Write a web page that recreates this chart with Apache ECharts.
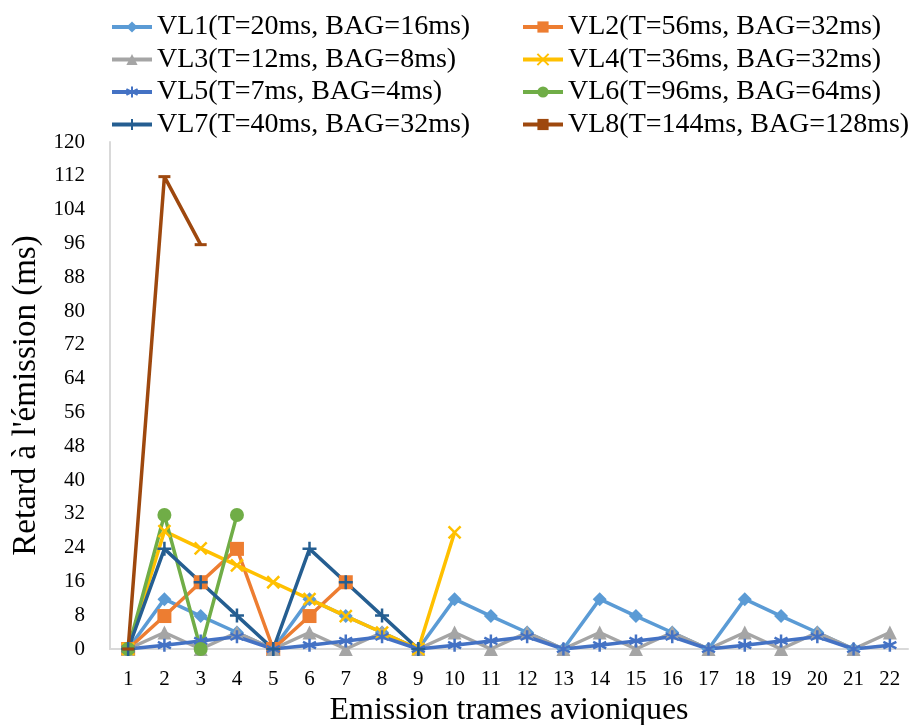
<!DOCTYPE html>
<html>
<head>
<meta charset="utf-8">
<script src="https://cdn.jsdelivr.net/npm/echarts@6/dist/echarts.min.js"></script>
<style>
  html, body { margin: 0; padding: 0; background: #fff; }
  #chart { width: 921px; height: 725px; }
</style>
</head>
<body>
<div id="chart"></div>
<script>
var categories = ['1','2','3','4','5','6','7','8','9','10','11','12','13','14','15','16','17','18','19','20','21','22'];

var vl1 = [0, 11.8, 7.8, 3.9, 0, 11.8, 7.8, 3.9, 0, 11.8, 7.8, 3.9, 0, 11.8, 7.8, 3.9, 0, 11.8, 7.8, 3.9, 0];
var vl2 = [0, 7.8, 15.8, 23.7, 0, 7.8, 15.8];
var vl3 = [0, 3.9, 0, 3.9, 0, 3.9, 0, 3.9, 0, 3.9, 0, 3.9, 0, 3.9, 0, 3.9, 0, 3.9, 0, 3.9, 0, 3.9];
var vl4 = [0, 27.9, 23.8, 19.8, 15.8, 11.8, 7.8, 3.9, 0, 27.6];
var vl5 = [0, 0.9, 1.9, 2.9, 0, 0.9, 1.9, 2.9, 0, 0.9, 1.9, 2.9, 0, 0.9, 1.9, 2.9, 0, 0.9, 1.9, 2.9, 0, 0.9];
var vl6 = [0, 31.7, 0, 31.7];
var vl7 = [0, 23.7, 15.8, 7.9, 0, 23.7, 15.8, 7.9, 0];
var vl8 = [0, 111.8, 95.7];

var names = [
    'VL1(T=20ms, BAG=16ms)',
    'VL2(T=56ms, BAG=32ms)',
    'VL3(T=12ms, BAG=8ms)',
    'VL4(T=36ms, BAG=32ms)',
    'VL5(T=7ms, BAG=4ms)',
    'VL6(T=96ms, BAG=64ms)',
    'VL7(T=40ms, BAG=32ms)',
    'VL8(T=144ms, BAG=128ms)'
];

var font = 'Liberation Serif';

// stroked markers (Excel style x, +, * and the short dash)
var crossX = 'path://M0,0 L10,10 M10,0 L0,10';
var plus = 'path://M5,0 L5,10 M0,5 L10,5';
var asterisk = 'path://M5,0 L5,10 M0.7,2.5 L9.3,7.5 M0.7,7.5 L9.3,2.5';
var dash = 'path://M0,0 L10,0 L10,2 L0,2 Z';

function mkSeries(name, data, color, symbol, size, stroke) {
    return {
        name: name,
        type: 'line',
        data: data,
        symbol: symbol,
        symbolSize: size,
        showSymbol: true,
        lineStyle: { color: color, width: 3.5 },
        itemStyle: stroke
            ? { color: color, borderColor: color, borderWidth: 2.5 }
            : { color: color, borderWidth: 0 },
        emphasis: { disabled: true },
        animation: false
    };
}

var chart = echarts.init(document.getElementById('chart'));

var legendText = { fontFamily: font, fontSize: 28, color: '#000', lineHeight: 30 };

function mkLegend(items, left) {
    return {
        data: items,
        orient: 'vertical',
        left: left,
        top: 7,
        itemGap: 2.5,
        itemWidth: 40,
        itemHeight: 14,
        lineStyle: { width: 4 },
        textStyle: legendText
    };
}

var option = {
    backgroundColor: '#fff',
    textStyle: { fontFamily: font },
    legend: [
        mkLegend([names[0], names[2], names[4], names[6]], 105),
        mkLegend([names[1], names[3], names[5], names[7]], 516)
    ],
    grid: { left: 110, right: 13, top: 142, bottom: 76, outerBoundsMode: 'none', containLabel: false },
    xAxis: {
        type: 'category',
        data: categories,
        boundaryGap: true,
        name: 'Emission trames avioniques',
        nameLocation: 'middle',
        nameGap: 43,
        nameTextStyle: { fontFamily: font, fontSize: 32, color: '#000' },
        axisLine: { lineStyle: { color: '#D9D9D9', width: 2 } },
        axisTick: { show: false },
        axisLabel: { fontFamily: font, fontSize: 21, color: '#000', margin: 20 }
    },
    yAxis: {
        type: 'value',
        min: 0,
        max: 120,
        interval: 8,
        name: "Retard à l'émission (ms)",
        nameLocation: 'middle',
        nameGap: 66,
        nameTextStyle: { fontFamily: font, fontSize: 33, color: '#000' },
        axisLine: { show: true, lineStyle: { color: '#D9D9D9', width: 2 } },
        axisTick: { show: false },
        splitLine: { show: false },
        axisLabel: { fontFamily: font, fontSize: 21, color: '#000', margin: 25 }
    },
    series: [
        mkSeries(names[0], vl1, '#5B9BD5', 'diamond', 14, false),
        mkSeries(names[1], vl2, '#ED7D31', 'rect', 14, false),
        mkSeries(names[2], vl3, '#A5A5A5', 'triangle', 14, false),
        mkSeries(names[3], vl4, '#FFC000', crossX, 12, true),
        mkSeries(names[4], vl5, '#4472C4', asterisk, 13, true),
        mkSeries(names[5], vl6, '#70AD47', 'circle', 14, false),
        mkSeries(names[6], vl7, '#255E91', plus, 14, true),
        mkSeries(names[7], vl8, '#9E480E', dash, [12, 3], false)
    ]
};

chart.setOption(option);
</script>
</body>
</html>
